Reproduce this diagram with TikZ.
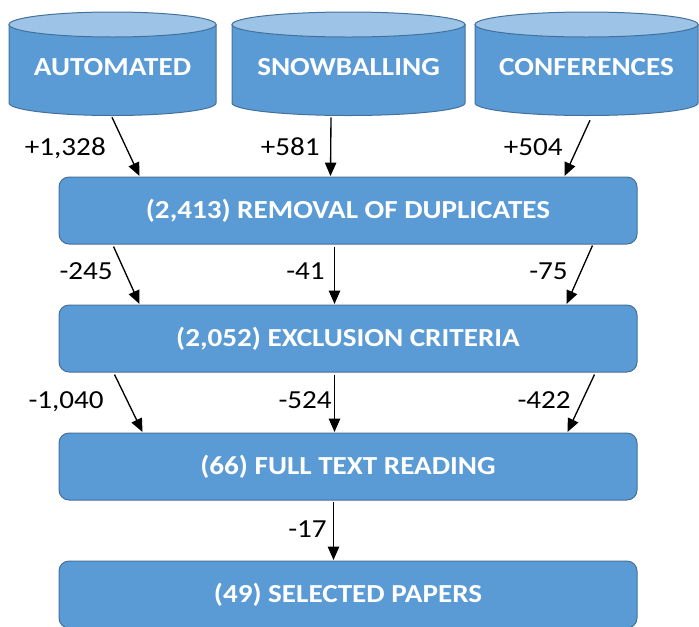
\documentclass[tikz,border=0pt]{standalone}
\usepackage{fontspec}
\setmainfont{Carlito}[FakeStretch=1.12]
\usetikzlibrary{arrows.meta,calc}
\definecolor{boxblue}{HTML}{5B9BD5}
\definecolor{edgeblue}{HTML}{41719C}
\definecolor{topblue}{HTML}{9DC3E6}
\begin{document}
\begin{tikzpicture}[x=0.75pt,y=-0.75pt,
  flowbox/.style={draw=edgeblue, fill=boxblue, line width=0.75pt, rounded corners=7.5pt,
    minimum width=433.5pt, minimum height=50.25pt, inner sep=0pt, text=white,
    font=\fontsize{19.5}{20}\selectfont\bfseries, text height=12.5pt, text depth=0pt},
  drumtext/.style={inner sep=0pt, text=white, font=\fontsize{19.5}{20}\selectfont\bfseries,
    text height=17pt, text depth=0pt},
  drumbody/.style={draw=edgeblue, fill=boxblue, line width=0.75pt},
  drumtop/.style={draw=edgeblue, fill=topblue, line width=0.75pt},
  cnt/.style={font=\fontsize{19.5}{20}\selectfont, anchor=base east, inner sep=0pt},
  flow/.style={line width=1pt, -{Triangle[length=10pt,width=8.5pt]}}
]
\useasboundingbox (0,0) rectangle (699,626);
\clip (0,0) rectangle (699,626);

% cylinders
\foreach \l/\r in {9/216, 232/465, 475/698}{
  \path[drumbody] (\l,24.5) -- (\l,103) arc[start angle=180, end angle=0, x radius={(\r-\l)/2}, y radius=12.5] -- (\r,24.5) -- cycle;
  \path[drumtop] ({(\l+\r)/2},24.5) ellipse [x radius={(\r-\l)/2}, y radius=12.5];
}
\node[drumtext, minimum width=155.25pt, minimum height=77.6pt] (a1) at (112.5,63.75) {AUTOMATED};
\node[drumtext, minimum width=174.75pt, minimum height=77.6pt] (a2) at (348.5,63.75) {SNOWBALLING};
\node[drumtext, minimum width=167.25pt, minimum height=77.6pt] (a3) at (586.5,63.75) {CONFERENCES};

% boxes
\node[flowbox] (b1) at (348,210.5) {(2,413) REMOVAL OF DUPLICATES};
\node[flowbox] (b2) at (348,338.5) {(2,052) EXCLUSION CRITERIA};
\node[flowbox] (b3) at (348,466.5) {(66) FULL TEXT READING};
\node[flowbox] (b4) at (348,594.5) {(49) SELECTED PAPERS};

% connectors
\draw[flow] ($(a1.south)+(-0.5,1.5)$) -- ($(b1.north west)+(81,-0.5)$);
\draw[flow] ($(a2.south)+(-17.5,1.5)$) -- ($(b1.north west)+(272,-0.5)$);
\draw[flow] ($(a3.south)+(3.5,4.5)$) -- ($(b1.north west)+(506,-0.5)$);

\draw[flow] ($(b1.south west)+(55,2)$) -- ($(b2.north west)+(81,-0.5)$);
\draw[flow] ($(b1.south west)+(276,2)$) -- ($(b2.north west)+(276,-0.5)$);
\draw[flow] ($(b1.south west)+(534,1)$) -- ($(b2.north west)+(508,-0.5)$);

\draw[flow] ($(b2.south west)+(56,2)$) -- ($(b3.north west)+(84,-0.5)$);
\draw[flow] ($(b2.south west)+(276,2)$) -- ($(b3.north west)+(276,-0.5)$);
\draw[flow] ($(b2.south west)+(536,2)$) -- ($(b3.north west)+(509,-0.5)$);

\draw[flow] ($(b3.south west)+(275,1.5)$) -- ($(b4.north west)+(275,-0.5)$);

% counts
\node[cnt] (n1) at (106,155) {+1,328};
\node[cnt] (n2) at (320,155) {+581};
\node[cnt] (n3) at (563,155) {+504};
\node[cnt] (n4) at (113,279) {-245};
\node[cnt] (n5) at (325,279) {-41};
\node[cnt] (n6) at (568,279) {-75};
\node[cnt] (n7) at (104,408) {-1,040};
\node[cnt] (n8) at (332,408) {-524};
\node[cnt] (n9) at (571,408) {-422};
\node[cnt] (n10) at (327,537) {-17};
\end{tikzpicture}
\end{document}
